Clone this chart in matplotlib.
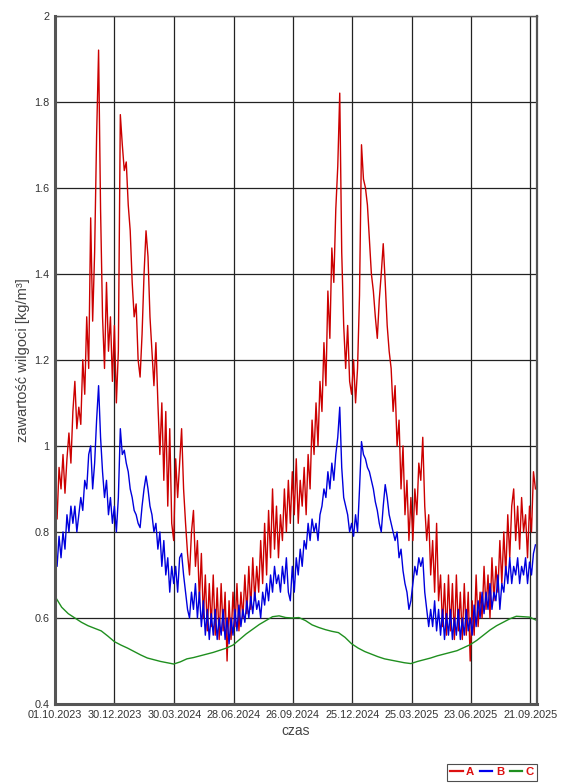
import numpy as np
import pandas as pd
import matplotlib
matplotlib.use('Agg')
import matplotlib.pyplot as plt
from matplotlib.lines import Line2D

plt.rcParams['font.family'] = ['Liberation Sans', 'DejaVu Sans']

# wartosci co 3 dni od 01.10.2023
series_a = [
    0.88, 0.83, 0.95, 0.90, 0.98, 0.89, 0.97, 1.03, 0.96, 1.08,
    1.15, 1.04, 1.09, 1.05, 1.20, 1.12, 1.30, 1.18, 1.53, 1.29,
    1.45, 1.72, 1.92, 1.55, 1.30, 1.18, 1.38, 1.22, 1.30, 1.15,
    1.28, 1.10, 1.22, 1.77, 1.70, 1.64, 1.66, 1.56, 1.50, 1.38,
    1.30, 1.33, 1.20, 1.16, 1.26, 1.40, 1.50, 1.44, 1.30, 1.22,
    1.14, 1.24, 1.10, 0.98, 1.10, 0.92, 1.08, 0.86, 1.04, 0.82,
    0.78, 0.97, 0.88, 0.96, 1.04, 0.90, 0.82, 0.75, 0.70, 0.80,
    0.85, 0.72, 0.78, 0.64, 0.75, 0.60, 0.70, 0.57, 0.68, 0.58,
    0.70, 0.56, 0.67, 0.55, 0.68, 0.57, 0.66, 0.50, 0.64, 0.55,
    0.66, 0.58, 0.68, 0.57, 0.66, 0.60, 0.70, 0.61, 0.72, 0.62,
    0.74, 0.64, 0.72, 0.66, 0.78, 0.68, 0.82, 0.70, 0.85, 0.74,
    0.90, 0.76, 0.86, 0.74, 0.84, 0.78, 0.90, 0.80, 0.92, 0.82,
    0.94, 0.84, 0.97, 0.82, 0.92, 0.86, 0.95, 0.84, 0.98, 0.90,
    1.06, 0.98, 1.10, 1.00, 1.15, 1.08, 1.24, 1.14, 1.36, 1.25,
    1.46, 1.38, 1.55, 1.65, 1.82, 1.45, 1.28, 1.18, 1.28, 1.15,
    1.12, 1.20, 1.10, 1.18, 1.35, 1.70, 1.62, 1.60, 1.56, 1.48,
    1.40, 1.36, 1.30, 1.25, 1.34, 1.40, 1.47, 1.38, 1.28, 1.22,
    1.18, 1.08, 1.14, 1.00, 1.06, 0.90, 1.00, 0.84, 0.92, 0.78,
    0.88, 0.78, 0.90, 0.84, 0.96, 0.92, 1.02, 0.86, 0.78, 0.84,
    0.70, 0.78, 0.66, 0.82, 0.64, 0.70, 0.58, 0.68, 0.56, 0.70,
    0.57, 0.68, 0.55, 0.70, 0.57, 0.66, 0.55, 0.68, 0.56, 0.66,
    0.50, 0.64, 0.56, 0.70, 0.58, 0.66, 0.60, 0.72, 0.62, 0.70,
    0.60, 0.74, 0.64, 0.72, 0.66, 0.78, 0.68, 0.80, 0.70, 0.84,
    0.74, 0.86, 0.90, 0.78, 0.86, 0.76, 0.88, 0.80, 0.84, 0.74,
    0.86, 0.80, 0.94, 0.90,
]

series_b = [
    0.76, 0.72, 0.79, 0.74, 0.80, 0.76, 0.84, 0.80, 0.86, 0.82,
    0.86, 0.80, 0.84, 0.88, 0.85, 0.92, 0.90, 0.98, 1.00, 0.90,
    0.96, 1.06, 1.14, 1.02, 0.94, 0.88, 0.92, 0.84, 0.88, 0.82,
    0.86, 0.80, 0.88, 1.04, 0.98, 0.99, 0.96, 0.94, 0.90, 0.88,
    0.85, 0.84, 0.82, 0.81, 0.86, 0.90, 0.93, 0.90, 0.86, 0.84,
    0.80, 0.82, 0.76, 0.80, 0.72, 0.78, 0.70, 0.74, 0.66, 0.72,
    0.68, 0.72, 0.66, 0.74, 0.75, 0.70, 0.66, 0.62, 0.60, 0.66,
    0.62, 0.68, 0.60, 0.66, 0.58, 0.64, 0.56, 0.62, 0.55, 0.61,
    0.56, 0.62, 0.55, 0.60, 0.56, 0.62, 0.55, 0.60, 0.54, 0.60,
    0.56, 0.62, 0.57, 0.63, 0.58, 0.62, 0.59, 0.64, 0.60, 0.65,
    0.61, 0.66, 0.62, 0.64, 0.60, 0.66, 0.63, 0.68, 0.64, 0.70,
    0.66, 0.72, 0.68, 0.70, 0.66, 0.72, 0.68, 0.74, 0.66, 0.64,
    0.72, 0.66, 0.74, 0.70, 0.76, 0.72, 0.78, 0.76, 0.82, 0.78,
    0.83, 0.80, 0.82, 0.78, 0.84, 0.86, 0.90, 0.88, 0.94, 0.90,
    0.96, 0.92, 0.98, 1.02, 1.09, 0.95, 0.88, 0.86, 0.84, 0.80,
    0.82, 0.79, 0.84, 0.80, 0.90, 1.01, 0.98, 0.97, 0.95, 0.94,
    0.92, 0.90, 0.87, 0.85, 0.82, 0.80, 0.86, 0.91, 0.88, 0.84,
    0.82, 0.80, 0.78, 0.80, 0.74, 0.76, 0.71, 0.68, 0.66, 0.62,
    0.64, 0.68, 0.72, 0.70, 0.74, 0.72, 0.74, 0.66, 0.62, 0.58,
    0.62, 0.58, 0.64, 0.57, 0.62, 0.56, 0.62, 0.55, 0.61, 0.56,
    0.62, 0.55, 0.60, 0.56, 0.62, 0.55, 0.60, 0.56, 0.62, 0.57,
    0.60, 0.56, 0.63, 0.58, 0.64, 0.60, 0.66, 0.61, 0.66, 0.62,
    0.68, 0.62, 0.66, 0.64, 0.70, 0.62, 0.68, 0.66, 0.72, 0.68,
    0.74, 0.68, 0.72, 0.70, 0.74, 0.68, 0.72, 0.70, 0.74, 0.68,
    0.73, 0.70, 0.75, 0.77,
]

# wartosci co 10 dni
series_c = [
    0.650, 0.625, 0.610, 0.600, 0.590, 0.582, 0.576, 0.570, 0.558, 0.545,
    0.537, 0.530, 0.522, 0.514, 0.507, 0.503, 0.499, 0.496, 0.493, 0.498,
    0.505, 0.508, 0.512, 0.516, 0.520, 0.525, 0.530, 0.537, 0.550, 0.563,
    0.574, 0.585, 0.594, 0.603, 0.605, 0.601, 0.600, 0.601, 0.594, 0.584,
    0.578, 0.573, 0.569, 0.566, 0.555, 0.540, 0.530, 0.522, 0.516, 0.510,
    0.505, 0.502, 0.499, 0.496, 0.494, 0.499, 0.503, 0.507, 0.512, 0.516,
    0.520, 0.524, 0.531, 0.538, 0.548, 0.560, 0.572, 0.582, 0.590, 0.598,
    0.604, 0.603, 0.602, 0.595,
]

tick_dates = ['2023-10-01', '2023-12-30', '2024-03-30', '2024-06-28', '2024-09-26',
              '2024-12-25', '2025-03-25', '2025-06-23', '2025-09-21']

t_a = pd.date_range('2023-10-01', periods=len(series_a), freq='3D')
t_b = pd.date_range('2023-10-01', periods=len(series_b), freq='3D')
t_c = pd.date_range('2023-10-01', periods=len(series_c), freq='10D')

fig = plt.figure(figsize=(5.68, 7.84), dpi=100)
ax = fig.add_axes([0.097, 0.102, 0.848, 0.878])

ax.plot(t_a, series_a, color='#cc0000', lw=1.0)
ax.plot(t_b, series_b, color='#0000dd', lw=1.0)
ax.plot(t_c, series_c, color='#1f8f1f', lw=1.0)

ax.set_xlim(pd.Timestamp('2023-10-01'), pd.Timestamp('2025-10-01'))
ax.set_ylim(0.4, 2.0)
ax.set_yticks(np.arange(0.4, 2.01, 0.2))
ax.set_yticklabels(['0.4', '0.6', '0.8', '1', '1.2', '1.4', '1.6', '1.8', '2'])
ticks = pd.to_datetime(tick_dates)
ax.set_xticks(ticks)
ax.set_xticklabels([d.strftime('%d.%m.%Y') for d in ticks])

ax.grid(True, color='#222222', lw=0.9)
ax.set_axisbelow(True)
ax.tick_params(direction='in', length=3, width=0.8, colors='#333333', labelsize=7.8,
               pad=4)
for s in ax.spines.values():
    s.set_color('#555555')
    s.set_linewidth(1.0)
ax.spines['left'].set_linewidth(2.2)
ax.spines['bottom'].set_linewidth(2.2)
ax.spines['right'].set_linewidth(1.6)

ax.set_xlabel('czas', fontsize=10, color='#444444', labelpad=3)
ax.set_ylabel('zawartość wilgoci [kg/m³]', fontsize=10.5, color='#444444', labelpad=3)

handles = [Line2D([], [], color=c, lw=1.6) for c in ('#dd1111', '#0000ee', '#1f8f1f')]
leg = fig.legend(handles, ['A', 'B', 'C'], loc='lower right', bbox_to_anchor=(0.946, 0.004),
                 borderaxespad=0, ncol=3, frameon=True, fancybox=False, handlelength=1.1,
                 handletextpad=0.3, columnspacing=0.5, borderpad=0.3,
                 prop={'weight': 'bold', 'size': 8.2})
leg.get_frame().set_edgecolor('#222222')
leg.get_frame().set_linewidth(0.8)
for txt in leg.get_texts():
    txt.set_color('#dd1111')

fig.savefig('out.png', dpi=100, facecolor='white')
